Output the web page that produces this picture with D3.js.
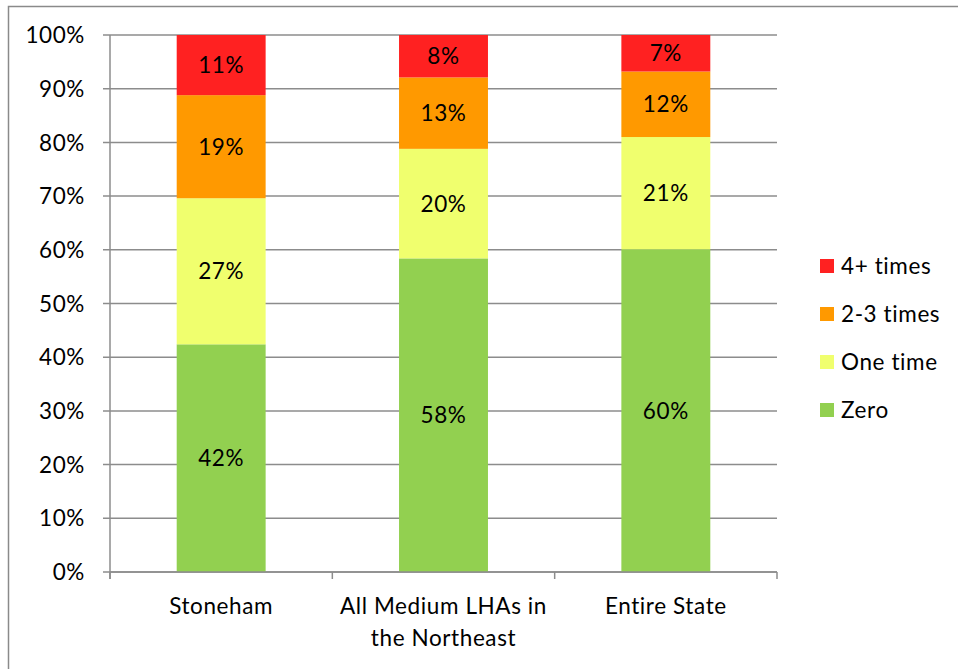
<!DOCTYPE html>
<html>
<head>
<meta charset="utf-8">
<script src="https://cdn.jsdelivr.net/npm/d3@7"></script>
<style>
  html, body { margin: 0; padding: 0; background: #fff; }
  svg { display: block; font-family: Lato, "Open Sans", sans-serif; }
  svg text { letter-spacing: 0.6px; }
</style>
</head>
<body>
<svg id="chart" width="958" height="669"></svg>
<script>
const categories = ["Stoneham", "All Medium LHAs in the Northeast", "Entire State"];
const seriesNames = ["Zero", "One time", "2-3 times", "4+ times"];
const zero     = [42.4, 58.4, 60.1];
const oneTime  = [27.2, 20.4, 20.9];
const twoThree = [19.2, 13.3, 12.2];
const fourPlus = [11.2, 7.9, 6.8];
const yTicks = [0, 10, 20, 30, 40, 50, 60, 70, 80, 90, 100];
const colors = ["#92D050", "#F0FF6E", "#FF9900", "#FF2121"];

const seriesValues = [zero, oneTime, twoThree, fourPlus];
const table = categories.map((c, i) => {
  const row = { cat: c };
  seriesNames.forEach((s, j) => row[s] = seriesValues[j][i]);
  return row;
});

const FS = 22.5;
const svg = d3.select("#chart");
const pLeft = 110, pRight = 777, pTop = 35, pBottom = 572;

// outer border
svg.append("rect").attr("x", 8.5).attr("y", 6.5).attr("width", 960).attr("height", 680)
  .attr("fill", "none").attr("stroke", "#8a8a8a").attr("stroke-width", 1.5);

const x = d3.scaleBand().domain(categories).range([pLeft, pRight]).padding(0);
const y = d3.scaleLinear().domain([0, 100]).range([pBottom, pTop]);

// gridlines
svg.append("g").selectAll("line").data(yTicks).join("line")
  .attr("x1", pLeft - 7).attr("x2", pRight)
  .attr("y1", d => y(d)).attr("y2", d => y(d))
  .attr("stroke", "#8c8c8c").attr("stroke-width", 1.5);

// y axis line
svg.append("line").attr("x1", pLeft).attr("x2", pLeft).attr("y1", pTop).attr("y2", pBottom + 7)
  .attr("stroke", "#8c8c8c").attr("stroke-width", 1.5);

// y labels
svg.append("g").selectAll("text").data(yTicks).join("text")
  .attr("x", pLeft - 25).attr("y", d => y(d)).attr("dy", "0.36em")
  .attr("text-anchor", "end").attr("font-size", FS).attr("fill", "#000")
  .text(d => d + "%");

// stacked bars
const stack = d3.stack().keys(seriesNames)(table);
const barW = x.bandwidth() * 0.4;
const g = svg.append("g");
stack.forEach((layer, j) => {
  g.selectAll(null).data(layer).join("rect")
    .attr("x", d => x(d.data.cat) + (x.bandwidth() - barW) / 2)
    .attr("width", barW)
    .attr("y", d => y(d[1]))
    .attr("height", d => y(d[0]) - y(d[1]))
    .attr("fill", colors[j]);
  g.selectAll(null).data(layer).join("text")
    .attr("x", d => x(d.data.cat) + x.bandwidth() / 2)
    .attr("y", d => (y(d[0]) + y(d[1])) / 2)
    .attr("dy", "0.36em").attr("text-anchor", "middle")
    .attr("font-size", FS).attr("fill", "#000")
    .text(d => Math.round(d[1] - d[0]) + "%");
});

// x axis line & ticks
svg.append("line").attr("x1", pLeft).attr("x2", pRight).attr("y1", pBottom).attr("y2", pBottom)
  .attr("stroke", "#8c8c8c").attr("stroke-width", 1.5);
const xTickPos = categories.map(c => x(c)).concat([pRight]);
svg.append("g").selectAll("line").data(xTickPos).join("line")
  .attr("x1", d => d).attr("x2", d => d).attr("y1", pBottom).attr("y2", pBottom + 7)
  .attr("stroke", "#8c8c8c").attr("stroke-width", 1.5);

// category labels (wrapped)
const catG = svg.append("g");
categories.forEach(c => {
  const cx = x(c) + x.bandwidth() / 2;
  const t = catG.append("text").attr("x", cx).attr("y", 614)
    .attr("text-anchor", "middle").attr("font-size", FS).attr("fill", "#000");
  const words = c.split(" ");
  let line = [];
  let ts = t.append("tspan").attr("x", cx).attr("dy", 0);
  words.forEach(w => {
    line.push(w);
    ts.text(line.join(" "));
    if (ts.node().getComputedTextLength() > 218 && line.length > 1) {
      line.pop();
      ts.text(line.join(" "));
      line = [w];
      ts = t.append("tspan").attr("x", cx).attr("dy", 32).text(w);
    }
  });
});

// legend
const legendOrder = [3, 2, 1, 0];
const lg = svg.append("g");
legendOrder.forEach((j, i) => {
  const cy = 266 + i * 48;
  lg.append("rect").attr("x", 820).attr("y", cy - 7).attr("width", 14).attr("height", 14)
    .attr("fill", colors[j]);
  lg.append("text").attr("x", 841).attr("y", cy).attr("dy", "0.36em")
    .attr("font-size", FS).attr("fill", "#000").text(seriesNames[j]);
});
</script>
</body>
</html>
